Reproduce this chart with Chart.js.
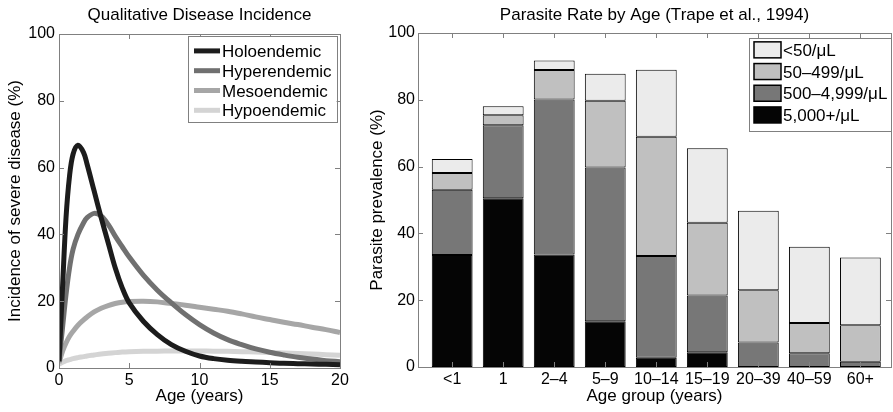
<!DOCTYPE html>
<html>
<head>
<meta charset="utf-8">
<script src="https://cdn.jsdelivr.net/npm/chart.js@4.4.1/dist/chart.umd.min.js"></script>
<style>
  html, body { margin: 0; padding: 0; background: #fff; }
  #wrap { position: relative; width: 893px; height: 412px; }
  #incidence { position: absolute; left: 0; top: 0; }
  #prevalence { position: absolute; left: 355px; top: 0; }
</style>
</head>
<body>
<div id="wrap">
  <canvas id="incidence" width="355" height="412"></canvas>
  <canvas id="prevalence" width="538" height="412"></canvas>
</div>
<script>
/* -----------------------------------------------------
   DATA - left panel
----------------------------------------------------- */
const ages = [0, 0.25, 0.5, 0.75, 1, 1.35, 1.75, 2, 2.5, 3, 3.5, 4, 4.5, 5, 6, 7, 8, 9, 10, 11, 12, 13, 14, 15, 16, 17, 18, 19, 20];
const holoendemic = [2, 24, 45, 57.5, 64, 66.7, 64.5, 61, 53, 45, 37.5, 30, 24, 19.5, 14, 10, 7, 5, 3.6, 2.8, 2.3, 2, 1.8, 1.6, 1.4, 1.3, 1.2, 1.1, 1];
const hyperendemic = [2, 12, 22, 30, 35.5, 40, 43.5, 45, 46.3, 45.5, 43, 39.5, 36.3, 33.2, 27.8, 23.3, 19.5, 16, 13, 10.5, 8.5, 7, 5.7, 4.7, 3.9, 3.2, 2.7, 2.2, 1.9];
const mesoendemic = [1.5, 5, 7.5, 9.5, 11, 12.8, 14.4, 15.3, 16.8, 17.9, 18.7, 19.3, 19.7, 19.9, 20, 19.8, 19.3, 18.8, 18.2, 17.6, 17, 16.2, 15.3, 14.5, 13.7, 13, 12.2, 11.5, 10.6];
const hypoendemic = [1.2, 1.7, 2.2, 2.5, 2.8, 3.1, 3.4, 3.6, 3.9, 4.2, 4.4, 4.6, 4.8, 4.9, 5, 5.05, 5.1, 5.1, 5.1, 5.05, 5, 4.9, 4.8, 4.65, 4.5, 4.35, 4.2, 4, 3.8];

/* -----------------------------------------------------
   DATA - right panel (stacked segments, bottom to top)
----------------------------------------------------- */
const ageGroups = ["<1", "1", "2\u20134", "5\u20139", "10\u201314", "15\u201319", "20\u201339", "40\u201359", "60+"];
const dens5000plus = [33.5, 50.5, 33.7, 13.7, 2.8, 4.4, 0, 0, 0];
const dens500to4999 = [19.6, 21.9, 46.4, 46.0, 30.4, 17.0, 7.3, 4.1, 1.6];
const dens50to499 = [5.0, 3.0, 8.8, 20.0, 35.7, 21.8, 15.7, 9.1, 10.9];
const densBelow50 = [4.2, 2.7, 2.9, 8.1, 20.1, 22.3, 23.8, 22.8, 20.3];

const FONT = "'Liberation Sans', Arial, Helvetica, sans-serif";
Chart.defaults.font.family = FONT;
Chart.defaults.color = "#000";

/* -----------------------------------------------------
   PLUGINS (matlab style frame, titles, boxed legend)
----------------------------------------------------- */
const frameAxes = {
  id: "frameAxes",
  afterDatasetsDraw(chart) {
    const { ctx, chartArea: a, scales } = chart;
    const len = 5;
    ctx.save();
    ctx.strokeStyle = "#808080";
    ctx.lineWidth = 1;
    ctx.beginPath();
    scales.x.ticks.forEach(t => {
      const px = Math.round(scales.x.getPixelForValue(t.value)) + 0.5;
      ctx.moveTo(px, a.bottom); ctx.lineTo(px, a.bottom - len);
      ctx.moveTo(px, a.top); ctx.lineTo(px, a.top + len);
    });
    scales.y.ticks.forEach(t => {
      const py = Math.round(scales.y.getPixelForValue(t.value)) + 0.5;
      ctx.moveTo(a.left, py); ctx.lineTo(a.left + len, py);
      ctx.moveTo(a.right, py); ctx.lineTo(a.right - len, py);
    });
    ctx.stroke();
    ctx.strokeRect(Math.round(a.left) + 0.5, Math.round(a.top) + 0.5,
      Math.round(a.right - a.left), Math.round(a.bottom - a.top));
    ctx.restore();
  }
};

const panelTitle = {
  id: "panelTitle",
  afterDraw(chart, args, opts) {
    const { ctx, chartArea: a } = chart;
    ctx.save();
    ctx.font = `17px ${FONT}`;
    ctx.fillStyle = "#000";
    ctx.textAlign = "center";
    ctx.textBaseline = "alphabetic";
    ctx.fillText(opts.text, (a.left + a.right) / 2, opts.baseline);
    ctx.restore();
  }
};

const boxLegend = {
  id: "boxLegend",
  afterDraw(chart, args, opts) {
    const { ctx, chartArea: a } = chart;
    const sets = chart.data.datasets.slice();
    if (opts.reverse) sets.reverse();

    ctx.save();
    ctx.font = `17px ${FONT}`;
    const textW = Math.max(...sets.map(d => ctx.measureText(d.label).width));
    const w = opts.padLeft + opts.swatch + opts.gap + textW + opts.padRight;
    const h = opts.padTop + opts.rowHeight * sets.length + opts.padBottom;
    const x0 = Math.round(a.right - opts.right - w);
    const y0 = Math.round(a.top + opts.top);

    ctx.fillStyle = "#fff";
    ctx.fillRect(x0, y0, w, h);
    ctx.strokeStyle = "#808080";
    ctx.lineWidth = 1;
    ctx.strokeRect(x0 + 0.5, y0 + 0.5, Math.round(w), Math.round(h));

    sets.forEach((d, i) => {
      const cy = y0 + opts.padTop + opts.rowHeight * (i + 0.5);
      const sx = x0 + opts.padLeft;
      if (opts.kind === "line") {
        ctx.strokeStyle = d.borderColor;
        ctx.lineWidth = d.borderWidth;
        ctx.beginPath();
        ctx.moveTo(sx, cy);
        ctx.lineTo(sx + opts.swatch, cy);
        ctx.stroke();
      } else {
        ctx.fillStyle = d.backgroundColor;
        ctx.fillRect(sx, cy - 8, opts.swatch, 16);
        ctx.strokeStyle = "#000";
        ctx.lineWidth = 1.5;
        ctx.strokeRect(sx, cy - 8, opts.swatch, 16);
      }
      ctx.fillStyle = "#000";
      ctx.textAlign = "left";
      ctx.textBaseline = "alphabetic";
      ctx.fillText(d.label, sx + opts.swatch + opts.gap, cy + 6);
    });
    ctx.restore();
  }
};

/* -----------------------------------------------------
   SHARED AXIS STYLE
----------------------------------------------------- */
function axisStyle(extra) {
  return Object.assign({
    grid: { display: false, drawTicks: false },
    border: { display: false }
  }, extra);
}

const tickFont = { size: 16 };
const titleFont = { size: 17 };

const toCurve = vals => ages.map((a, i) => ({ x: a, y: vals[i] }));
const toBars = vals => vals.map((v, i) => ({ x: i + 1, y: v }));

/* -----------------------------------------------------
   LEFT: QUALITATIVE DISEASE INCIDENCE
----------------------------------------------------- */
const lineStyle = { borderWidth: 5, pointRadius: 0, fill: false, tension: 0.35 };

new Chart(document.getElementById("incidence"), {
  type: "line",
  data: {
    datasets: [
      { label: "Holoendemic", data: toCurve(holoendemic), borderColor: "#1c1c1c", ...lineStyle },
      { label: "Hyperendemic", data: toCurve(hyperendemic), borderColor: "#707070", ...lineStyle },
      { label: "Mesoendemic", data: toCurve(mesoendemic), borderColor: "#a6a6a6", ...lineStyle },
      { label: "Hypoendemic", data: toCurve(hypoendemic), borderColor: "#d4d4d4", ...lineStyle }
    ]
  },
  options: {
    responsive: false,
    animation: false,
    layout: { padding: { top: 34, right: 15, left: 0, bottom: 0 } },
    plugins: {
      legend: { display: false },
      tooltip: { enabled: false },
      panelTitle: { text: "Qualitative Disease Incidence", baseline: 20 },
      boxLegend: { kind: "line", top: 2, right: 3, padTop: 5, padBottom: 2, rowHeight: 19.8, padLeft: 6, swatch: 26, gap: 2, padRight: 5 }
    },
    scales: {
      x: axisStyle({
        type: "linear", min: 0, max: 20,
        ticks: { color: "#000", font: tickFont, stepSize: 5, padding: 3, maxRotation: 0 },
        title: { display: true, text: "Age (years)", font: titleFont, padding: { top: 0, bottom: 5 } },
        afterFit: s => { s.height = 44; }
      }),
      y: axisStyle({
        min: 0, max: 100,
        ticks: { color: "#000", font: tickFont, stepSize: 20, padding: 4 },
        title: { display: true, text: "Incidence of severe disease (%)", font: titleFont, padding: { top: 5, bottom: 0 } },
        afterFit: s => { s.width = 59; }
      })
    }
  },
  plugins: [frameAxes, panelTitle, boxLegend]
});

/* -----------------------------------------------------
   RIGHT: PARASITE RATE BY AGE
----------------------------------------------------- */
const barStyle = { borderColor: "#000", borderWidth: 1, borderSkipped: false, barPercentage: 0.8, categoryPercentage: 1 };

new Chart(document.getElementById("prevalence"), {
  type: "bar",
  data: {
    datasets: [
      { label: "5,000+/\u03bcL", data: toBars(dens5000plus), backgroundColor: "#050505", ...barStyle },
      { label: "500\u20134,999/\u03bcL", data: toBars(dens500to4999), backgroundColor: "#777777", ...barStyle },
      { label: "50\u2013499/\u03bcL", data: toBars(dens50to499), backgroundColor: "#c0c0c0", ...barStyle },
      { label: "<50/\u03bcL", data: toBars(densBelow50), backgroundColor: "#ebebeb", ...barStyle }
    ]
  },
  options: {
    responsive: false,
    animation: false,
    layout: { padding: { top: 33, right: 2, left: 0, bottom: 0 } },
    plugins: {
      legend: { display: false },
      tooltip: { enabled: false },
      panelTitle: { text: "Parasite Rate by Age (Trape et al., 1994)", baseline: 20 },
      boxLegend: { kind: "box", reverse: true, top: 5, right: 0, padTop: 1, padBottom: 5, rowHeight: 21.7, padLeft: 5, swatch: 27, gap: 2, padRight: 4 }
    },
    scales: {
      x: axisStyle({
        type: "linear", min: 0.33, max: 9.6, stacked: true, offset: false,
        afterBuildTicks: s => { s.ticks = ageGroups.map((_, i) => ({ value: i + 1 })); },
        ticks: { color: "#000", font: tickFont, padding: 3, maxRotation: 0, autoSkip: false,
          callback: v => ageGroups[v - 1] },
        title: { display: true, text: "Age group (years)", font: titleFont, padding: { top: 0, bottom: 5 } },
        afterFit: s => { s.height = 45; }
      }),
      y: axisStyle({
        min: 0, max: 100, stacked: true,
        ticks: { color: "#000", font: tickFont, stepSize: 20, padding: 3 },
        title: { display: true, text: "Parasite prevalence (%)", font: titleFont, padding: { top: 12, bottom: 0 } },
        afterFit: s => { s.width = 63; }
      })
    }
  },
  plugins: [frameAxes, panelTitle, boxLegend]
});
</script>
</body>
</html>
